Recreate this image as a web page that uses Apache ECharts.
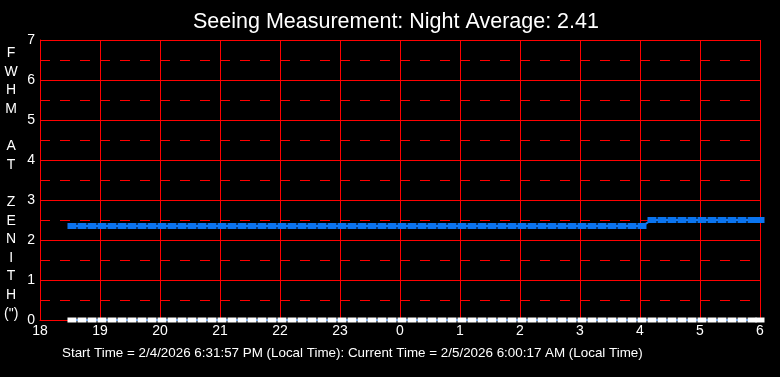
<!DOCTYPE html>
<html>
<head>
<meta charset="utf-8">
<script src="https://cdn.jsdelivr.net/npm/echarts@6/dist/echarts.min.js"></script>
<style>html,body{margin:0;padding:0;background:#000}#c{width:780px;height:377px}</style>
</head>
<body>
<div id="c"></div>
<script>
var titleText = 'Seeing Measurement: Night Average: 2.41';
var footerText = 'Start Time = 2/4/2026 6:31:57 PM (Local Time): Current Time = 2/5/2026 6:00:17 AM (Local Time)';
var yAxisTitle = ['F','W','H','M','','A','T','','Z','E','N','I','T','H','(")'];
var times = [18.533,18.700,18.867,19.033,19.200,19.367,19.533,19.700,19.867,20.033,
  20.200,20.367,20.533,20.700,20.867,21.033,21.200,21.367,21.533,21.700,
  21.867,22.033,22.200,22.367,22.533,22.700,22.867,23.033,23.200,23.367,
  23.533,23.700,23.867,24.033,24.200,24.367,24.533,24.700,24.867,25.033,
  25.200,25.367,25.533,25.700,25.867,26.033,26.200,26.367,26.533,26.700,
  26.867,27.033,27.200,27.367,27.533,27.700,27.867,28.033,28.200,28.367,
  28.533,28.700,28.867,29.033,29.200,29.367,29.533,29.700,29.867,30.000];
var fwhm = [2.35,2.35,2.35,2.35,2.35,2.35,2.35,2.35,2.35,2.35,
  2.35,2.35,2.35,2.35,2.35,2.35,2.35,2.35,2.35,2.35,
  2.35,2.35,2.35,2.35,2.35,2.35,2.35,2.35,2.35,2.35,
  2.35,2.35,2.35,2.35,2.35,2.35,2.35,2.35,2.35,2.35,
  2.35,2.35,2.35,2.35,2.35,2.35,2.35,2.35,2.35,2.35,
  2.35,2.35,2.35,2.35,2.35,2.35,2.35,2.35,2.5,2.5,
  2.5,2.5,2.5,2.5,2.5,2.5,2.5,2.5,2.5,2.5];
var baseline = [0,0,0,0,0,0,0,0,0,0,
  0,0,0,0,0,0,0,0,0,0,
  0,0,0,0,0,0,0,0,0,0,
  0,0,0,0,0,0,0,0,0,0,
  0,0,0,0,0,0,0,0,0,0,
  0,0,0,0,0,0,0,0,0,0,
  0,0,0,0,0,0,0,0,0,0];

function pairs(xs, ys){ return xs.map(function(x,i){ return [x, ys[i]]; }); }

var font = 'Liberation Sans, Arial, sans-serif';
var chart = echarts.init(document.getElementById('c'), null, {renderer:'canvas'});
chart.setOption({
  backgroundColor: '#000',
  animation: false,
  title: {
    text: titleText, left: 188, top: 6,
    textStyle: {color:'#fff', fontSize:21.5, fontWeight:'normal', fontFamily: font}
  },
  grid: {left:40, right:20, top:40, bottom:57},
  xAxis: {
    type:'value', min:18, max:30, interval:1,
    axisLine:{show:true, lineStyle:{color:'#ff0000', width:1}},
    axisTick:{show:false},
    axisLabel:{color:'#fff', fontSize:14, fontFamily:font, margin:4,
      formatter:function(v){ return String(Math.round(v)%24); }},
    splitLine:{show:true, lineStyle:{color:'#ff0000', width:1}}
  },
  yAxis: {
    type:'value', min:0, max:7, interval:1,
    axisLine:{show:true, lineStyle:{color:'#ff0000', width:1}},
    axisTick:{show:false},
    axisLabel:{color:'#fff', fontSize:14, fontFamily:font, margin:5},
    splitLine:{show:true, lineStyle:{color:'#ff0000', width:1}},
    minorTick:{show:false, splitNumber:2},
    minorSplitLine:{show:true, lineStyle:{color:'#ff0000', width:1, type:[10,10]}}
  },
  graphic: [
    {type:'text', left:4, top:44, style:{text: yAxisTitle.join('\n'), fill:'#fff',
      font: '14px ' + font, lineHeight:18.6, textAlign:'center', width:14}},
    {type:'text', left:62, top:347, style:{text: footerText, fill:'#fff', font:'13.4px ' + font}}
  ],
  series: [
    {type:'line', data: pairs(times, fwhm), clip:false, z:5,
      lineStyle:{color:'#1a7fff', width:2},
      symbol:'rect', symbolSize:[9,6], itemStyle:{color:'#0a74f0'}},
    {type:'line', data: pairs(times, baseline), clip:false, z:6,
      lineStyle:{color:'#1a7fff', width:2},
      symbol:'rect', symbolSize:[9,5], itemStyle:{color:'#ffffff'}}
  ]
});
</script>
</body>
</html>
